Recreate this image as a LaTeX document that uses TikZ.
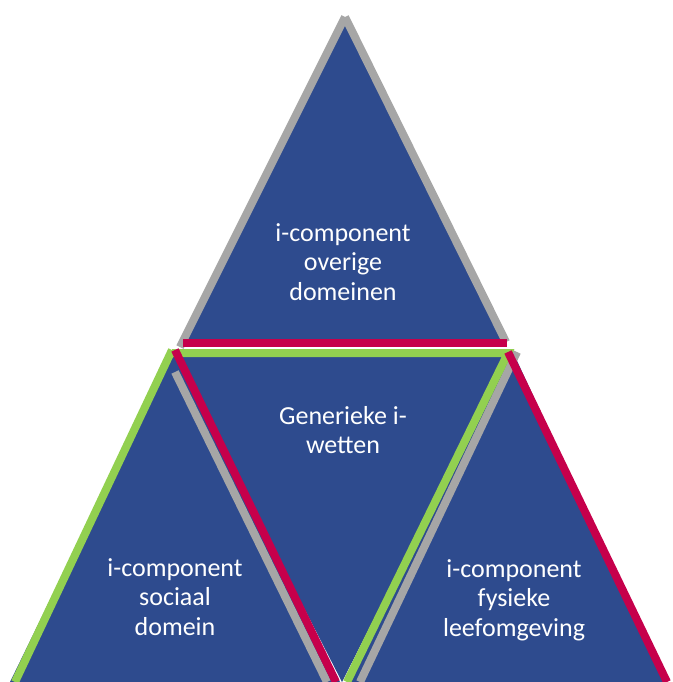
\documentclass[tikz,border=0pt]{standalone}
\usepackage{fontspec}
\setmainfont{Carlito}
\definecolor{vlakblauw}{HTML}{2E4B8E}
\definecolor{randgrijs}{HTML}{A6A6A6}
\definecolor{randrood}{HTML}{C6004B}
\definecolor{randgroen}{HTML}{92D050}

\begin{document}
\begin{tikzpicture}[x=1pt,y=-1pt]
    \tikzset{vlak/.style={fill=vlakblauw},
      rand/.style={line width=8pt,line cap=butt},
      tekst/.style={text=white,align=center,inner sep=0pt,font=\fontsize{26}{29.5}\selectfont}}
\useasboundingbox (0,0) rectangle (672,682);
% hoekpunten van de vier driehoeken
\coordinate (Tt) at (345,17);  \coordinate (Tl) at (181,345); \coordinate (Tr) at (507,345);
\coordinate (Ml) at (172,350); \coordinate (Mr) at (510,350); \coordinate (Mb) at (342,682);
\coordinate (Lt) at (172,350); \coordinate (Ll) at (10,682);  \coordinate (Lr) at (340,682);
\coordinate (Rt) at (512,350); \coordinate (Rl) at (350,682); \coordinate (Rr) at (666,682);
 \fill[vlak] (Tt) -- (Tl) -- (Tr) -- cycle;
 \fill[vlak] (Ml) -- (Mr) -- (Mb) -- cycle;
 \fill[vlak] (Lt) -- (Ll) -- (Lr) -- cycle;
 \fill[vlak] (Rt) -- (Rl) -- (Rr) -- cycle;
% randen
\coordinate (Tgl) at (180,347); \coordinate (Tgr) at (506,342);
\coordinate (Tra) at (183,343); \coordinate (Trb) at (507,343);
\coordinate (Mga) at (172,353); \coordinate (Mgb) at (508,353); \coordinate (Mgc) at (347,682);
\coordinate (Mra) at (175,350); \coordinate (Mrb) at (336,682);
\coordinate (Lga) at (172,350); \coordinate (Lgb) at (15,682);
\coordinate (Lka) at (175,372); \coordinate (Lkb) at (327,682);
\coordinate (Rka) at (517,352); \coordinate (Rkb) at (360,682);
\coordinate (Rra) at (508,352); \coordinate (Rrb) at (667,682);
 \draw[rand,randgrijs] (Tt) -- (Tgl);
 \draw[rand,randgrijs] (Tt) -- (Tgr);
 \draw[rand,randgrijs] (Lka) -- (Lkb);
 \draw[rand,randgrijs] (Rka) -- (Rkb);
 \draw[rand,randgroen,line join=miter] (Mga) -- (Mgb) -- (Mgc);
 \draw[rand,randgroen] (Lga) -- (Lgb);
 \draw[rand,randrood] (Tra) -- (Trb);
 \draw[rand,randrood] (Mra) -- (Mrb);
 \draw[rand,randrood] (Rra) -- (Rrb);
% teksten
\node[tekst] (boven) at (343,262) {i-component\\overige\\domeinen};
\node[tekst] (midden) at (343,430) {Generieke i-\\wetten};
\node[tekst] (links) at (175,597) {i-component\\sociaal\\domein};
\node[tekst] (rechts) at (514,600) {i-component\\fysieke\\leefomgeving};
\end{tikzpicture}
\end{document}
